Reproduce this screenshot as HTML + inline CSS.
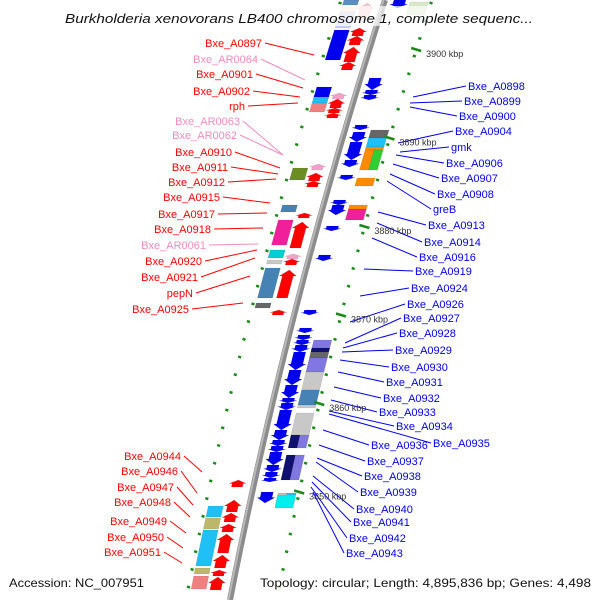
<!DOCTYPE html>
<html><head><meta charset="utf-8"><style>
html,body{margin:0;padding:0;background:#fff}
svg{display:block;font-family:"Liberation Sans","DejaVu Sans",sans-serif}
</style></head><body>
<svg id="map" width="600" height="600" viewBox="0 0 600 600">
<g id="dots"></g>
<g id="backbone"></g>
<g id="feats"></g>
<g id="labels"></g>
<g id="kbp"></g>
<rect x="60" y="6" width="480" height="20" fill="rgba(255,255,255,0.7)"/>
<text x="65" y="23" font-size="13" font-style="italic" fill="#111" textLength="468" lengthAdjust="spacingAndGlyphs">Burkholderia xenovorans LB400 chromosome 1, complete sequenc...</text>
<text x="9" y="587" font-size="12" fill="#111" textLength="135" lengthAdjust="spacingAndGlyphs">Accession: NC_007951</text>
<rect x="258" y="573" width="336" height="18" fill="rgba(255,255,255,0.75)"/>
<text x="260" y="587" font-size="12" fill="#111" textLength="331" lengthAdjust="spacingAndGlyphs">Topology: circular; Length: 4,895,836 bp; Genes: 4,498</text>
</svg>
<script>
// backbone curve x(y)
function B(y){return 385-0.3217*y+1.056e-4*y*y;}
// data arrays
const kbpValues=[3900,3890,3880,3870,3860,3850];
const lanes={L:[-41,-26],R:[-25,-8],A:[6,24],C:[26,44],AH:[6,24],C1:[26,35],C2:[35,44]};
const featStart=[0,7,12,30,45,87,97,103,168,205,220,250,260,268,303,493,493,506,518,530,568,576,
 3,28,36,47,62,93,99,108,113,164,173,181,213,222,254,259,270,310,480,500,513,524,534,555,570,577,
 0,78,90,95,125,132,142,160,175,200,205,226,255,310,328,335,340,345,352,370,385,398,403,410,430,440,446,452,465,472,478,492,
 2,130,138,147,150,150,178,205,209,340,348,352,358,372,390,405,413,435,435,455,455,495];
const featEnd=[5,12,28,45,60,97,103,112,180,212,245,258,264,298,308,505,505,517,529,566,574,589,
 20,36,45,62,70,99,108,113,118,170,181,187,218,248,259,265,298,315,487,512,522,532,553,568,576,590,
 8,90,95,100,130,142,160,167,180,205,215,231,261,315,333,340,345,352,370,385,398,403,410,430,440,446,452,465,472,478,482,503,
 15,138,147,150,170,170,186,209,220,350,352,358,372,390,405,408,440,448,448,480,480,508];
const featLane=["L","L","L","L","L","L","L","L","L","L","L","L","L","L","L","C1","C2","L","L","L","L","L",
 "R","R","R","R","R","R","R","R","R","R","R","R","R","R","R","R","R","R","R","R","R","R","R","R","R","R",
 "A","A","A","A","A","A","A","A","A","A","A","A","A","A","A","A","A","A","A","A","A","A","A","A","A","A","A","A","A","A","A","A",
 "C","C","C","C","C1","C2","C","C","C","C","C","C","C","C","C","C","C","C1","C2","C1","C2","C"];
const featColor=["#5a8fc0","#fbe3c8","#cbcbf3","#0000ee","#0000ee","#0000ee","#1ec0f5","#f08080","#6b8e23","#4682b4","#f0209a","#00ced1","#c8c8c8","#4682b4","#666666","#c0c0c0","#1ec0f5","#1ec0f5","#bdb76b","#1ec0f5","#bdb76b","#f08080",
 "#f8c8cc","#ff0000","#ff0000","#ff0000","#ff0000","#f4a0c8","#ff0000","#ff0000","#ff0000","#f4a0c8","#ff0000","#ff0000","#ff0000","#ff0000","#f4a0c8","#ff0000","#ff0000","#ff0000","#ff0000","#ff0000","#ff0000","#ff0000","#ff0000","#ff0000","#ff0000","#ff0000",
 "#0000ee","#0000ee","#0000ee","#0000ee","#0000ee","#0000ee","#0000ee","#0000ee","#0000ee","#0000ee","#0000ee","#0000ee","#0000ee","#0000ee","#0000ee","#0000ee","#0000ee","#0000ee","#0000ee","#0000ee","#0000ee","#0000ee","#0000ee","#0000ee","#0000ee","#0000ee","#0000ee","#0000ee","#0000ee","#0000ee","#0000ee","#0000ee",
 "#d8e8c8","#666666","#1ec0f5","#ff8c00","#ff8c00","#32cd32","#ff8c00","#ff8c00","#f0209a","#8078e0","#101070","#666666","#8078e0","#c8c8c8","#4682b4","#c8c8c8","#c8c8c8","#101070","#8078e0","#101070","#8078e0","#00eeee"];
// labels
const leftNames=["Bxe_A0897","Bxe_AR0064","Bxe_A0901","Bxe_A0902","rph","Bxe_AR0063","Bxe_AR0062","Bxe_A0910","Bxe_A0911","Bxe_A0912","Bxe_A0915","Bxe_A0917","Bxe_A0918","Bxe_AR0061","Bxe_A0920","Bxe_A0921","pepN","Bxe_A0925","Bxe_A0944","Bxe_A0946","Bxe_A0947","Bxe_A0948","Bxe_A0949","Bxe_A0950","Bxe_A0951"];
const leftY=[47,63,78,95,110,125,139,156,171,186,201,218,233,249,265,281,297,313,460,475,491,506,525,541,556];
const leftEndX=[262,258,253,250,245,240,237,232,228,225,220,215,211,206,202,198,193,189,181,178,174,171,167,164,161];
const leftTarget=[[314,55],[305,80],[303,88],[300,97],[298,103],[283,155],[283,155],[280,168],[278,174],[276,179],[270,203],[267,213],[263,228],[258,244],[257,250],[255,258],[250,276],[243,303],[202,472],[197,493],[193,505],[190,517],[186,533],[183,548],[182,563]];
const leftPink=[1,5,6,13];
const rightNames=["Bxe_A0898","Bxe_A0899","Bxe_A0900","Bxe_A0904","gmk","Bxe_A0906","Bxe_A0907","Bxe_A0908","greB","Bxe_A0913","Bxe_A0914","Bxe_A0916","Bxe_A0919","Bxe_A0924","Bxe_A0926","Bxe_A0927","Bxe_A0928","Bxe_A0929","Bxe_A0930","Bxe_A0931","Bxe_A0932","Bxe_A0933","Bxe_A0934","Bxe_A0935","Bxe_A0936","Bxe_A0937","Bxe_A0938","Bxe_A0939","Bxe_A0940","Bxe_A0941","Bxe_A0942","Bxe_A0943"];
const rightY=[90,105,120,135,151,167,182,198,213,229,246,261,275,292,308,322,337,354,371,386,402,416,430,447,449,465,480,496,513,526,542,557];
const rightX=[468,464,459,455,451,446,441,437,433,428,424,419,415,411,407,403,399,395,391,386,383,379,396,433,371,367,364,360,356,353,349,346];
const rightSource=[[413,97],[410,103],[410,107],[398,143],[400,152],[396,155],[393,164],[390,174],[387,181],[378,212],[377,223],[372,238],[364,269],[360,296],[350,322],[345,343],[343,348],[342,352],[340,360],[338,372],[334,387],[331,400],[329,411],[329,414],[323,430],[319,445],[317,458],[316,462],[313,476],[312,482],[311,487],[313,492]];

const NS="http://www.w3.org/2000/svg";
function mk(tag,attrs,parent){const e=document.createElementNS(NS,tag);for(const k in attrs)e.setAttribute(k,attrs[k]);parent.appendChild(e);return e;}
function kbpY(k){return 50+(3900-k)*8.85;}

// dots
const dg=document.getElementById('dots');
for(let y=3;y<600;y+=17.7){
  [-44,47].forEach(o=>{
    const x=B(y)+o;
    const d=mk('line',{x1:x-1.5,y1:y-0.5,x2:x+1.5,y2:y+0.5,stroke:'#1a8a1a','stroke-width':2.5},dg);
    
    
  });
}
// kbp ticks and labels
const kg=document.getElementById('kbp');
kbpValues.forEach(k=>{
  const y=kbpY(k);const x=B(y)+47;
  const t=mk('line',{x1:x-5,y1:y-2,x2:x+5,y2:y+1,stroke:'#1a8a1a','stroke-width':2.5},kg);
  
  
  const tx=mk('text',{x:x+10,y:y+7,'font-size':9,fill:'#333'},kg);
  
  
  tx.textContent=k+' kbp';
});
// backbone
const bg=document.getElementById('backbone');
let pts=[];for(let y=0;y<=600;y+=10)pts.push(B(y).toFixed(1)+','+y);
const bl=mk('polyline',{points:pts.join(' '),fill:'none',stroke:'#8c8c8c','stroke-width':6},bg);


const bl2=mk('polyline',{points:pts.join(' '),fill:'none',stroke:'#b8b8b8','stroke-width':2,transform:'translate(-1.5,0)'},bg);



// features
const fg=document.getElementById('feats');
for(let i=0;i<featStart.length;i++){
  const y1=featStart[i],y2=featEnd[i],ln=featLane[i],o=lanes[ln];
  let p;
  const b1=B(y1),b2=B(y2);
  if(ln==='R'){ // forward arrow, tip up
    const h=Math.min(6,(y2-y1)*0.5),ym=y1+h,bm=B(ym),bc=B(y1);
    p=[[bm+o[0]+3,ym],[bm+o[0],ym],[bc+(o[0]+o[1])/2,y1],[bm+o[1],ym],[bm+o[1]-3,ym],[b2+o[1]-3,y2],[b2+o[0]+3,y2]];
  }else if(ln==='A'){ // reverse arrow, tip down
    const h=Math.min(6,(y2-y1)*0.5),ym=y2-h,bm=B(ym);
    p=[[b1+o[0]+3,y1],[b1+o[1]-3,y1],[bm+o[1]-3,ym],[bm+o[1],ym],[b2+(o[0]+o[1])/2,y2],[bm+o[0],ym],[bm+o[0]+3,ym]];
  }else{
    p=[[b1+o[0],y1],[b1+o[1],y1],[b2+o[1],y2],[b2+o[0],y2]];
  }
  const e=mk('polygon',{points:p.map(q=>q[0].toFixed(1)+','+q[1].toFixed(1)).join(' '),fill:featColor[i],stroke:'rgba(0,0,0,0.12)','stroke-width':0.6},fg);
  
  
}

// labels
const lg=document.getElementById('labels');
leftNames.forEach((n,i)=>{
  const pink=leftPink.indexOf(i)>=0,c=pink?'#f08cbe':'#ff0000';
  const l=mk('line',{x1:leftEndX[i]+3,y1:leftY[i]-4,x2:leftTarget[i][0],y2:leftTarget[i][1],stroke:c,'stroke-width':1},lg);
  
  
  const t=mk('text',{x:leftEndX[i],y:leftY[i],'font-size':11,fill:c,'text-anchor':'end'},lg);
  
  
  t.textContent=n;
});
rightNames.forEach((n,i)=>{
  const l=mk('line',{x1:rightSource[i][0],y1:rightSource[i][1],x2:rightX[i]-2,y2:rightY[i]-4,stroke:'#0000ee','stroke-width':1},lg);
  
  
  const t=mk('text',{x:rightX[i],y:rightY[i],'font-size':11,fill:'#0000ee'},lg);
  
  
  t.textContent=n;
});
</script>
</body></html>
